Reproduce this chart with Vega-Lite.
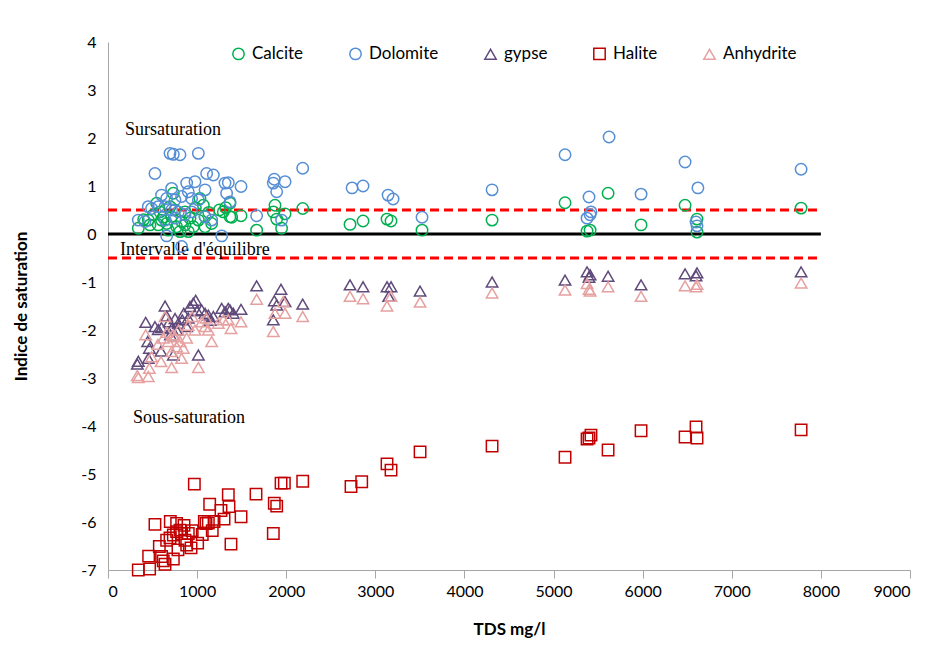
{
  "$schema": "https://vega.github.io/schema/vega-lite/v6.json",
  "width": 802,
  "height": 528,
  "autosize": {"type": "none"},
  "padding": {"left": 108, "top": 42, "right": 30, "bottom": 75},
  "background": "white",
  "config": {
    "view": {"stroke": null},
    "font": "Lato",
    "axis": {"grid": false, "domainColor": "#a6a6a6", "tickColor": "#a6a6a6", "labelColor": "#000", "titleColor": "#000", "labelFont": "Lato", "titleFont": "Lato", "labelFontSize": 16, "titleFontSize": 17, "titleFontWeight": "bold"}
  },
  "datasets": {
    "pts": [
      {"mineral":"Calcite","tds":340,"si":0.12},{"mineral":"Calcite","tds":400,"si":0.3},{"mineral":"Calcite","tds":452,"si":0.29},{"mineral":"Calcite","tds":471,"si":0.19},{"mineral":"Calcite","tds":508,"si":0.4},{"mineral":"Calcite","tds":546,"si":0.64},{"mineral":"Calcite","tds":564,"si":0.19},{"mineral":"Calcite","tds":583,"si":0.46},{"mineral":"Calcite","tds":601,"si":0.29},{"mineral":"Calcite","tds":620,"si":0.35},{"mineral":"Calcite","tds":658,"si":0.22},{"mineral":"Calcite","tds":676,"si":0.08},{"mineral":"Calcite","tds":696,"si":0.57},{"mineral":"Calcite","tds":714,"si":0.36},{"mineral":"Calcite","tds":733,"si":0.85},{"mineral":"Calcite","tds":750,"si":0.5},{"mineral":"Calcite","tds":770,"si":0.15},{"mineral":"Calcite","tds":808,"si":0.05},{"mineral":"Calcite","tds":826,"si":0.26},{"mineral":"Calcite","tds":864,"si":0.19},{"mineral":"Calcite","tds":864,"si":0.46},{"mineral":"Calcite","tds":901,"si":0.05},{"mineral":"Calcite","tds":920,"si":0.33},{"mineral":"Calcite","tds":957,"si":0.15},{"mineral":"Calcite","tds":980,"si":0.55},{"mineral":"Calcite","tds":1014,"si":0.29},{"mineral":"Calcite","tds":1032,"si":0.74},{"mineral":"Calcite","tds":1070,"si":0.6},{"mineral":"Calcite","tds":1089,"si":0.15},{"mineral":"Calcite","tds":1089,"si":0.36},{"mineral":"Calcite","tds":1130,"si":0.45},{"mineral":"Calcite","tds":1163,"si":0.22},{"mineral":"Calcite","tds":1250,"si":0.5},{"mineral":"Calcite","tds":1294,"si":0.46},{"mineral":"Calcite","tds":1320,"si":0.55},{"mineral":"Calcite","tds":1369,"si":0.36},{"mineral":"Calcite","tds":1369,"si":0.64},{"mineral":"Calcite","tds":1388,"si":0.35},{"mineral":"Calcite","tds":1493,"si":0.38},{"mineral":"Calcite","tds":1668,"si":0.08},{"mineral":"Calcite","tds":1855,"si":0.46},{"mineral":"Calcite","tds":1874,"si":0.6},{"mineral":"Calcite","tds":1893,"si":0.31},{"mineral":"Calcite","tds":1948,"si":0.12},{"mineral":"Calcite","tds":1987,"si":0.42},{"mineral":"Calcite","tds":2185,"si":0.53},{"mineral":"Calcite","tds":2716,"si":0.2},{"mineral":"Calcite","tds":2862,"si":0.27},{"mineral":"Calcite","tds":3131,"si":0.31},{"mineral":"Calcite","tds":3176,"si":0.27},{"mineral":"Calcite","tds":3524,"si":0.08},{"mineral":"Calcite","tds":4310,"si":0.29},{"mineral":"Calcite","tds":5129,"si":0.65},{"mineral":"Calcite","tds":5376,"si":0.06},{"mineral":"Calcite","tds":5410,"si":0.08},{"mineral":"Calcite","tds":5612,"si":0.85},{"mineral":"Calcite","tds":5982,"si":0.19},{"mineral":"Calcite","tds":6476,"si":0.6},{"mineral":"Calcite","tds":6610,"si":0.31},{"mineral":"Calcite","tds":6610,"si":0.04},{"mineral":"Calcite","tds":7778,"si":0.54},
      {"mineral":"Dolomite","tds":340,"si":0.29},{"mineral":"Dolomite","tds":415,"si":0.26},{"mineral":"Dolomite","tds":452,"si":0.57},{"mineral":"Dolomite","tds":489,"si":0.53},{"mineral":"Dolomite","tds":527,"si":1.26},{"mineral":"Dolomite","tds":564,"si":0.57},{"mineral":"Dolomite","tds":601,"si":0.81},{"mineral":"Dolomite","tds":640,"si":0.57},{"mineral":"Dolomite","tds":640,"si":0.29},{"mineral":"Dolomite","tds":658,"si":0.74},{"mineral":"Dolomite","tds":658,"si":-0.04},{"mineral":"Dolomite","tds":696,"si":1.68},{"mineral":"Dolomite","tds":714,"si":0.95},{"mineral":"Dolomite","tds":714,"si":0.5},{"mineral":"Dolomite","tds":733,"si":1.66},{"mineral":"Dolomite","tds":752,"si":0.71},{"mineral":"Dolomite","tds":752,"si":0.33},{"mineral":"Dolomite","tds":789,"si":0.46},{"mineral":"Dolomite","tds":808,"si":1.65},{"mineral":"Dolomite","tds":826,"si":0.78},{"mineral":"Dolomite","tds":826,"si":-0.26},{"mineral":"Dolomite","tds":864,"si":0.4},{"mineral":"Dolomite","tds":883,"si":1.06},{"mineral":"Dolomite","tds":901,"si":0.88},{"mineral":"Dolomite","tds":938,"si":0.74},{"mineral":"Dolomite","tds":938,"si":0.46},{"mineral":"Dolomite","tds":976,"si":1.09},{"mineral":"Dolomite","tds":1014,"si":1.68},{"mineral":"Dolomite","tds":1014,"si":0.71},{"mineral":"Dolomite","tds":1089,"si":0.92},{"mineral":"Dolomite","tds":1089,"si":0.36},{"mineral":"Dolomite","tds":1107,"si":1.26},{"mineral":"Dolomite","tds":1163,"si":0.29},{"mineral":"Dolomite","tds":1182,"si":1.23},{"mineral":"Dolomite","tds":1276,"si":-0.04},{"mineral":"Dolomite","tds":1313,"si":1.06},{"mineral":"Dolomite","tds":1331,"si":0.85},{"mineral":"Dolomite","tds":1350,"si":1.07},{"mineral":"Dolomite","tds":1369,"si":0.67},{"mineral":"Dolomite","tds":1493,"si":0.99},{"mineral":"Dolomite","tds":1668,"si":0.38},{"mineral":"Dolomite","tds":1855,"si":1.06},{"mineral":"Dolomite","tds":1866,"si":1.14},{"mineral":"Dolomite","tds":1893,"si":0.88},{"mineral":"Dolomite","tds":1948,"si":0.29},{"mineral":"Dolomite","tds":1987,"si":1.09},{"mineral":"Dolomite","tds":2185,"si":1.37},{"mineral":"Dolomite","tds":2739,"si":0.96},{"mineral":"Dolomite","tds":2862,"si":1.0},{"mineral":"Dolomite","tds":3143,"si":0.81},{"mineral":"Dolomite","tds":3199,"si":0.73},{"mineral":"Dolomite","tds":3524,"si":0.35},{"mineral":"Dolomite","tds":4310,"si":0.92},{"mineral":"Dolomite","tds":5129,"si":1.65},{"mineral":"Dolomite","tds":5376,"si":0.33},{"mineral":"Dolomite","tds":5398,"si":0.77},{"mineral":"Dolomite","tds":5410,"si":0.4},{"mineral":"Dolomite","tds":5420,"si":0.46},{"mineral":"Dolomite","tds":5623,"si":2.02},{"mineral":"Dolomite","tds":5982,"si":0.83},{"mineral":"Dolomite","tds":6476,"si":1.5},{"mineral":"Dolomite","tds":6620,"si":0.96},{"mineral":"Dolomite","tds":6599,"si":0.25},{"mineral":"Dolomite","tds":6610,"si":0.17},{"mineral":"Dolomite","tds":7778,"si":1.35},
      {"mineral":"gypse","tds":329,"si":-2.71},{"mineral":"gypse","tds":340,"si":-2.65},{"mineral":"gypse","tds":423,"si":-1.84},{"mineral":"gypse","tds":445,"si":-2.24},{"mineral":"gypse","tds":452,"si":-2.59},{"mineral":"gypse","tds":464,"si":-2.38},{"mineral":"gypse","tds":527,"si":-1.93},{"mineral":"gypse","tds":564,"si":-1.99},{"mineral":"gypse","tds":595,"si":-2.44},{"mineral":"gypse","tds":600,"si":-1.95},{"mineral":"gypse","tds":640,"si":-1.5},{"mineral":"gypse","tds":658,"si":-1.71},{"mineral":"gypse","tds":687,"si":-1.83},{"mineral":"gypse","tds":700,"si":-2.1},{"mineral":"gypse","tds":714,"si":-1.97},{"mineral":"gypse","tds":733,"si":-2.52},{"mineral":"gypse","tds":752,"si":-1.76},{"mineral":"gypse","tds":770,"si":-2.0},{"mineral":"gypse","tds":789,"si":-1.86},{"mineral":"gypse","tds":834,"si":-1.79},{"mineral":"gypse","tds":850,"si":-1.65},{"mineral":"gypse","tds":883,"si":-1.93},{"mineral":"gypse","tds":900,"si":-1.75},{"mineral":"gypse","tds":920,"si":-1.51},{"mineral":"gypse","tds":957,"si":-1.44},{"mineral":"gypse","tds":984,"si":-1.38},{"mineral":"gypse","tds":1000,"si":-1.6},{"mineral":"gypse","tds":1014,"si":-2.52},{"mineral":"gypse","tds":1051,"si":-1.58},{"mineral":"gypse","tds":1089,"si":-1.65},{"mineral":"gypse","tds":1126,"si":-1.69},{"mineral":"gypse","tds":1150,"si":-1.8},{"mineral":"gypse","tds":1182,"si":-1.72},{"mineral":"gypse","tds":1276,"si":-1.55},{"mineral":"gypse","tds":1313,"si":-1.62},{"mineral":"gypse","tds":1350,"si":-1.55},{"mineral":"gypse","tds":1369,"si":-1.58},{"mineral":"gypse","tds":1406,"si":-1.65},{"mineral":"gypse","tds":1493,"si":-1.57},{"mineral":"gypse","tds":1668,"si":-1.08},{"mineral":"gypse","tds":1855,"si":-1.79},{"mineral":"gypse","tds":1866,"si":-1.39},{"mineral":"gypse","tds":1893,"si":-1.48},{"mineral":"gypse","tds":1941,"si":-1.15},{"mineral":"gypse","tds":1987,"si":-1.41},{"mineral":"gypse","tds":2185,"si":-1.46},{"mineral":"gypse","tds":2716,"si":-1.06},{"mineral":"gypse","tds":2862,"si":-1.1},{"mineral":"gypse","tds":3131,"si":-1.1},{"mineral":"gypse","tds":3150,"si":-1.3},{"mineral":"gypse","tds":3176,"si":-1.1},{"mineral":"gypse","tds":3502,"si":-1.19},{"mineral":"gypse","tds":4310,"si":-1.0},{"mineral":"gypse","tds":5129,"si":-0.96},{"mineral":"gypse","tds":5376,"si":-0.79},{"mineral":"gypse","tds":5398,"si":-0.9},{"mineral":"gypse","tds":5410,"si":-0.85},{"mineral":"gypse","tds":5612,"si":-0.88},{"mineral":"gypse","tds":5982,"si":-1.06},{"mineral":"gypse","tds":6476,"si":-0.83},{"mineral":"gypse","tds":6599,"si":-0.87},{"mineral":"gypse","tds":6610,"si":-0.81},{"mineral":"gypse","tds":7778,"si":-0.79},
      {"mineral":"Halite","tds":340,"si":-7.0},{"mineral":"Halite","tds":467,"si":-6.98},{"mineral":"Halite","tds":456,"si":-6.71},{"mineral":"Halite","tds":576,"si":-6.51},{"mineral":"Halite","tds":601,"si":-6.72},{"mineral":"Halite","tds":620,"si":-6.81},{"mineral":"Halite","tds":640,"si":-6.88},{"mineral":"Halite","tds":733,"si":-6.77},{"mineral":"Halite","tds":527,"si":-6.05},{"mineral":"Halite","tds":699,"si":-5.99},{"mineral":"Halite","tds":770,"si":-6.03},{"mineral":"Halite","tds":853,"si":-6.07},{"mineral":"Halite","tds":658,"si":-6.38},{"mineral":"Halite","tds":696,"si":-6.33},{"mineral":"Halite","tds":733,"si":-6.27},{"mineral":"Halite","tds":770,"si":-6.2},{"mineral":"Halite","tds":808,"si":-6.17},{"mineral":"Halite","tds":826,"si":-6.24},{"mineral":"Halite","tds":864,"si":-6.38},{"mineral":"Halite","tds":901,"si":-6.24},{"mineral":"Halite","tds":945,"si":-6.18},{"mineral":"Halite","tds":932,"si":-6.54},{"mineral":"Halite","tds":1006,"si":-6.44},{"mineral":"Halite","tds":1058,"si":-6.26},{"mineral":"Halite","tds":1081,"si":-5.99},{"mineral":"Halite","tds":1100,"si":-6.03},{"mineral":"Halite","tds":1126,"si":-6.02},{"mineral":"Halite","tds":1170,"si":-6.18},{"mineral":"Halite","tds":1190,"si":-5.99},{"mineral":"Halite","tds":1302,"si":-5.94},{"mineral":"Halite","tds":1268,"si":-5.76},{"mineral":"Halite","tds":1358,"si":-5.68},{"mineral":"Halite","tds":1141,"si":-5.63},{"mineral":"Halite","tds":969,"si":-5.21},{"mineral":"Halite","tds":1350,"si":-5.43},{"mineral":"Halite","tds":1380,"si":-6.46},{"mineral":"Halite","tds":785,"si":-6.58},{"mineral":"Halite","tds":883,"si":-6.48},{"mineral":"Halite","tds":1493,"si":-5.89},{"mineral":"Halite","tds":1661,"si":-5.42},{"mineral":"Halite","tds":1866,"si":-5.61},{"mineral":"Halite","tds":1893,"si":-5.67},{"mineral":"Halite","tds":1855,"si":-6.24},{"mineral":"Halite","tds":1942,"si":-5.19},{"mineral":"Halite","tds":1979,"si":-5.19},{"mineral":"Halite","tds":2185,"si":-5.15},{"mineral":"Halite","tds":2727,"si":-5.26},{"mineral":"Halite","tds":2847,"si":-5.16},{"mineral":"Halite","tds":3131,"si":-4.79},{"mineral":"Halite","tds":3176,"si":-4.92},{"mineral":"Halite","tds":3502,"si":-4.54},{"mineral":"Halite","tds":4310,"si":-4.42},{"mineral":"Halite","tds":5129,"si":-4.65},{"mineral":"Halite","tds":5376,"si":-4.27},{"mineral":"Halite","tds":5398,"si":-4.25},{"mineral":"Halite","tds":5420,"si":-4.19},{"mineral":"Halite","tds":5612,"si":-4.5},{"mineral":"Halite","tds":5982,"si":-4.1},{"mineral":"Halite","tds":6476,"si":-4.23},{"mineral":"Halite","tds":6599,"si":-4.02},{"mineral":"Halite","tds":6610,"si":-4.25},{"mineral":"Halite","tds":7778,"si":-4.08},
      {"mineral":"Anhydrite","tds":329,"si":-2.95},{"mineral":"Anhydrite","tds":340,"si":-2.99},{"mineral":"Anhydrite","tds":423,"si":-2.1},{"mineral":"Anhydrite","tds":452,"si":-2.97},{"mineral":"Anhydrite","tds":464,"si":-2.8},{"mineral":"Anhydrite","tds":489,"si":-2.56},{"mineral":"Anhydrite","tds":560,"si":-2.3},{"mineral":"Anhydrite","tds":595,"si":-2.66},{"mineral":"Anhydrite","tds":620,"si":-2.17},{"mineral":"Anhydrite","tds":640,"si":-1.72},{"mineral":"Anhydrite","tds":660,"si":-2.05},{"mineral":"Anhydrite","tds":676,"si":-2.24},{"mineral":"Anhydrite","tds":714,"si":-2.78},{"mineral":"Anhydrite","tds":714,"si":-2.45},{"mineral":"Anhydrite","tds":730,"si":-2.1},{"mineral":"Anhydrite","tds":752,"si":-2.14},{"mineral":"Anhydrite","tds":770,"si":-2.35},{"mineral":"Anhydrite","tds":790,"si":-2.0},{"mineral":"Anhydrite","tds":808,"si":-2.24},{"mineral":"Anhydrite","tds":826,"si":-2.59},{"mineral":"Anhydrite","tds":845,"si":-2.38},{"mineral":"Anhydrite","tds":883,"si":-2.17},{"mineral":"Anhydrite","tds":900,"si":-1.9},{"mineral":"Anhydrite","tds":945,"si":-1.72},{"mineral":"Anhydrite","tds":976,"si":-2.0},{"mineral":"Anhydrite","tds":1014,"si":-2.78},{"mineral":"Anhydrite","tds":1051,"si":-1.83},{"mineral":"Anhydrite","tds":1089,"si":-1.93},{"mineral":"Anhydrite","tds":1100,"si":-1.75},{"mineral":"Anhydrite","tds":1126,"si":-2.0},{"mineral":"Anhydrite","tds":1163,"si":-2.24},{"mineral":"Anhydrite","tds":1238,"si":-1.86},{"mineral":"Anhydrite","tds":1294,"si":-1.79},{"mineral":"Anhydrite","tds":1350,"si":-1.79},{"mineral":"Anhydrite","tds":1380,"si":-1.97},{"mineral":"Anhydrite","tds":1493,"si":-1.83},{"mineral":"Anhydrite","tds":1668,"si":-1.36},{"mineral":"Anhydrite","tds":1855,"si":-2.03},{"mineral":"Anhydrite","tds":1874,"si":-1.65},{"mineral":"Anhydrite","tds":1966,"si":-1.41},{"mineral":"Anhydrite","tds":1987,"si":-1.65},{"mineral":"Anhydrite","tds":2185,"si":-1.72},{"mineral":"Anhydrite","tds":2716,"si":-1.3},{"mineral":"Anhydrite","tds":2862,"si":-1.35},{"mineral":"Anhydrite","tds":3131,"si":-1.5},{"mineral":"Anhydrite","tds":3176,"si":-1.3},{"mineral":"Anhydrite","tds":3502,"si":-1.42},{"mineral":"Anhydrite","tds":4310,"si":-1.23},{"mineral":"Anhydrite","tds":5129,"si":-1.17},{"mineral":"Anhydrite","tds":5376,"si":-1.03},{"mineral":"Anhydrite","tds":5398,"si":-1.15},{"mineral":"Anhydrite","tds":5410,"si":-1.19},{"mineral":"Anhydrite","tds":5612,"si":-1.1},{"mineral":"Anhydrite","tds":5982,"si":-1.3},{"mineral":"Anhydrite","tds":6476,"si":-1.08},{"mineral":"Anhydrite","tds":6599,"si":-1.1},{"mineral":"Anhydrite","tds":6610,"si":-1.05},{"mineral":"Anhydrite","tds":7778,"si":-1.02}
    ],
    "lines": [
      {"kind":"zero","x":0,"x2":8000,"y":0},
      {"kind":"dash","x":0,"x2":8000,"y":0.5},
      {"kind":"dash","x":0,"x2":8000,"y":-0.5}
    ],
    "labels": [
      {"x":191,"y":2.17,"text":"Sursaturation"},
      {"x":135,"y":-0.33,"text":"Intervalle d'équilibre"},
      {"x":281,"y":-3.83,"text":"Sous-saturation"}
    ]
  },
  "encoding": {
    "x": {"field":"tds","type":"quantitative","scale":{"domain":[0,9000],"nice":false},"axis":{"title":"TDS mg/l","values":[0,1000,2000,3000,4000,5000,6000,7000,8000,9000],"labelExpr":"toString(datum.value)","tickSize":8,"labelPadding":5,"titlePadding":22}},
    "y": {"field":"si","type":"quantitative","scale":{"domain":[-7,4],"nice":false,"zero":false},"axis":{"title":"Indice de saturation","values":[-7,-6,-5,-4,-3,-2,-1,0,1,2,3,4],"labelExpr":"toString(datum.value)","ticks":false,"labelPadding":12,"titlePadding":50}}
  },
  "layer": [
    {
      "data": {"name":"lines"},
      "transform": [{"filter":"datum.kind == 'dash'"}],
      "mark": {"type":"rule","color":"#ff0000","strokeWidth":3,"strokeDash":[9,5]},
      "encoding": {"x":{"field":"x","type":"quantitative"},"x2":{"field":"x2"},"y":{"field":"y","type":"quantitative"}}
    },
    {
      "data": {"name":"lines"},
      "transform": [{"filter":"datum.kind == 'zero'"}],
      "mark": {"type":"rule","color":"#000000","strokeWidth":3},
      "encoding": {"x":{"field":"x","type":"quantitative"},"x2":{"field":"x2"},"y":{"field":"y","type":"quantitative"}}
    },
    {
      "data": {"name":"labels"},
      "mark": {"type":"text","align":"left","baseline":"middle","font":"Liberation Serif","fontSize":18,"color":"#000"},
      "encoding": {"x":{"field":"x","type":"quantitative"},"y":{"field":"y","type":"quantitative"},"text":{"field":"text"}}
    },
    {
      "data": {"name":"pts"},
      "mark": {"type":"point","filled":false,"strokeWidth":1.5,"opacity":1},
      "encoding": {
        "shape": {"field":"mineral","type":"nominal","scale":{"domain":["Calcite","Dolomite","gypse","Halite","Anhydrite"],"range":["circle","circle","triangle-up","square","triangle-up"]},"legend":null},
        "size": {"field":"mineral","type":"nominal","scale":{"domain":["Calcite","Dolomite","gypse","Halite","Anhydrite"],"range":[130,130,80,85,80]},"legend":null},
        "color": {"field":"mineral","type":"nominal","scale":{"domain":["Calcite","Dolomite","gypse","Halite","Anhydrite"],"range":["#00B050","#558ED5","#604A7B","#C00000","#E6A0A0"]},
          "legend":{"title":null,"orient":"none","legendX":122,"legendY":3,"direction":"horizontal","columns":5,"columnPadding":42,"labelFontSize":17,"labelFont":"Lato","labelColor":"#000","symbolSize":60,"symbolStrokeWidth":1.5,"symbolType":"circle","labelOffset":5}}
      }
    }
  ]
}
